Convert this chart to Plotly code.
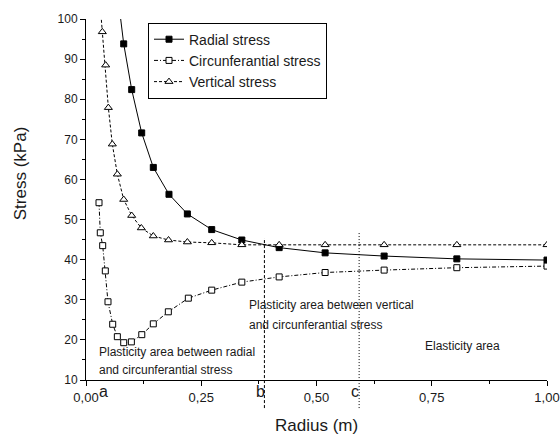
import plotly.graph_objects as go

# ---------------- data ----------------
radial_x = [0.066, 0.0818, 0.0991, 0.1208, 0.146, 0.180, 0.2199, 0.2727, 0.338, 0.419, 0.5187, 0.6467, 0.8044, 1.0]
radial_y = [108.7, 93.8, 82.4, 71.6, 63.0, 56.3, 51.4, 47.5, 44.9, 43.0, 41.7, 40.9, 40.2, 39.9]

circ_x = [0.0282, 0.031, 0.0362, 0.0419, 0.0477, 0.0579, 0.068, 0.0818, 0.0984, 0.121, 0.146, 0.1786,
          0.222, 0.2727, 0.338, 0.419, 0.5187, 0.6467, 0.8044, 1.0]
circ_y = [54.2, 46.7, 43.5, 37.2, 29.5, 23.9, 20.8, 19.3, 19.5, 21.3, 24.0, 27.0,
          30.4, 32.4, 34.4, 35.7, 36.8, 37.4, 38.0, 38.4]

vert_x = [0.029, 0.0354, 0.0427, 0.0485, 0.0571, 0.068, 0.0818, 0.0991, 0.120, 0.146, 0.179,
          0.2199, 0.2727, 0.338, 0.419, 0.5187, 0.6467, 0.8044, 1.0]
vert_y = [106.0, 96.8, 88.5, 77.9, 68.8, 61.3, 55.0, 51.0, 47.9, 45.9, 44.9,
          44.4, 44.2, 43.7, 43.7, 43.7, 43.7, 43.7, 43.7]

series_names = ["Radial stress", "Circunferantial stress", "Vertical stress"]

# boundary radii (b, c) and the stress level where the marker lines stop
boundary_labels = ["b", "c"]
boundary_x = [0.387, 0.5925]
boundary_top = [45.4, 47.0]
boundary_bottom = 3.0
point_a_x = 0.037

x_ticks = [0.0, 0.25, 0.5, 0.75, 1.0]
y_range = [10, 100]
x_range = [0, 1]

FONT = "Arial, Liberation Sans, sans-serif"
INK = "#1a1a1a"


def paper_y(v):
    return (v - y_range[0]) / (y_range[1] - y_range[0])


fig = go.Figure()

fig.add_trace(go.Scatter(
    x=radial_x, y=radial_y, name=series_names[0], mode="lines+markers",
    line=dict(color="black", width=1),
    marker=dict(symbol="square", size=6, color="black", line=dict(color="black", width=1)),
))
fig.add_trace(go.Scatter(
    x=circ_x, y=circ_y, name=series_names[1], mode="lines+markers",
    line=dict(color="black", width=1, dash="4px,2px,1px,2px"),
    marker=dict(symbol="square", size=6, color="white", line=dict(color="black", width=1)),
))
fig.add_trace(go.Scatter(
    x=vert_x, y=vert_y, name=series_names[2], mode="lines+markers",
    line=dict(color="black", width=1, dash="3px,2px"),
    marker=dict(symbol="triangle-up", size=7, color="white", line=dict(color="black", width=1)),
))

# boundary lines b and c
for bx, top, d in zip(boundary_x, boundary_top, ["3px,2px", "1px,2px"]):
    fig.add_shape(type="line", xref="x", yref="paper",
                  x0=bx, x1=bx, y0=paper_y(boundary_bottom), y1=paper_y(top),
                  line=dict(color="black", width=1, dash=d))

# letters a, b, c under the axis
for lab, lx in zip(["a"] + boundary_labels, [point_a_x, 0.3776, 0.584]):
    fig.add_annotation(x=lx, y=-0.033, xref="x", yref="paper", text=lab, showarrow=False,
                       font=dict(family=FONT, size=16, color=INK), xanchor="center", yanchor="middle")

# region texts
region_texts = [
    ("Plasticity area between radial", 0.0245, 17.05),
    ("and circunferantial stress", 0.0245, 12.5),
    ("Plasticity area between vertical", 0.3487, 28.8),
    ("and circunferantial stress", 0.3487, 23.7),
    ("Elasticity area", 0.7307, 18.55),
]
for t, tx, ty in region_texts:
    fig.add_annotation(x=tx, y=ty, xref="x", yref="y", text=t, showarrow=False,
                       font=dict(family=FONT, size=12, color=INK), xanchor="left", yanchor="middle")

# axis titles
fig.add_annotation(x=0.5, y=-0.127, xref="paper", yref="paper", text="Radius (m)", showarrow=False,
                   font=dict(family=FONT, size=17, color=INK), xanchor="center", yanchor="middle")
fig.add_annotation(x=-0.143, y=0.573, xref="paper", yref="paper", text="Stress (kPa)", showarrow=False,
                   textangle=-90, font=dict(family=FONT, size=17, color=INK), xanchor="center", yanchor="middle")

fig.update_layout(
    template="none",
    width=560, height=435,
    margin=dict(l=86, r=13, t=19, b=55, autoexpand=False),
    paper_bgcolor="white", plot_bgcolor="white",
    separators=",.",
    font=dict(family=FONT, size=12, color=INK),
    showlegend=True,
    legend=dict(x=0.1345, y=0.99, xanchor="left", yanchor="top",
                bordercolor="black", borderwidth=1, bgcolor="white",
                font=dict(family=FONT, size=14, color=INK), tracegroupgap=0),
    xaxis=dict(range=x_range, tickvals=x_ticks, tickformat=".2f", showgrid=False, zeroline=False,
               automargin=False,
               showline=True, linecolor="black", linewidth=1, ticks="outside", ticklen=5,
               tickcolor="black", tickfont=dict(family=FONT, size=13, color=INK),
               minor=dict(ticks="outside", ticklen=3, dtick=0.125, tickcolor="black", showgrid=False)),
    yaxis=dict(range=y_range, dtick=10, showgrid=False, zeroline=False,
               automargin=False,
               showline=True, linecolor="black", linewidth=1, ticks="outside", ticklen=5,
               tickcolor="black", tickfont=dict(family=FONT, size=12, color=INK),
               minor=dict(ticks="outside", ticklen=3, dtick=5, tickcolor="black", showgrid=False)),
)

fig.write_html("out.html")
